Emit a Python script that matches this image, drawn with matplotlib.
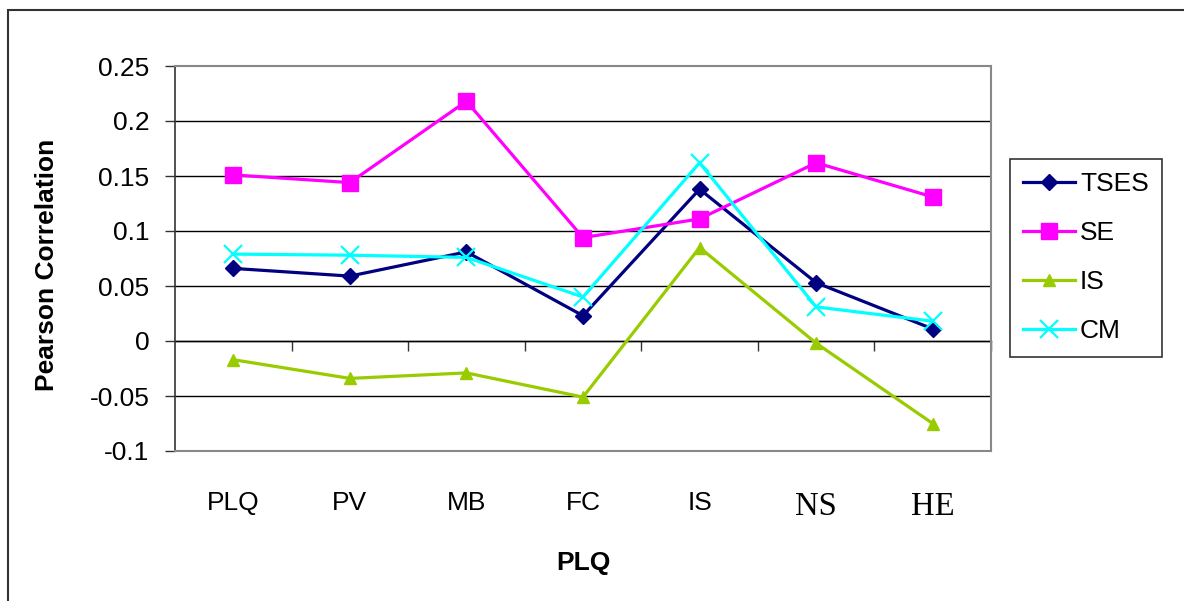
import matplotlib
matplotlib.use("Agg")
import matplotlib.pyplot as plt
from matplotlib.patches import Rectangle

categories = ["PLQ", "PV", "MB", "FC", "IS", "NS", "HE"]
tses = [0.066, 0.059, 0.081, 0.023, 0.138, 0.053, 0.011]
se = [0.151, 0.144, 0.218, 0.094, 0.111, 0.162, 0.131]
is_vals = [-0.017, -0.034, -0.029, -0.051, 0.085, -0.002, -0.075]
cm = [0.079, 0.078, 0.076, 0.040, 0.162, 0.031, 0.018]
y_ticks = [-0.1, -0.05, 0, 0.05, 0.1, 0.15, 0.2, 0.25]
y_tick_labels = ["-0.1", "-0.05", "0", "0.05", "0.1", "0.15", "0.2", "0.25"]

W, H = 1184, 601
FS = 19
plt.rcParams["font.family"] = ["Liberation Sans", "DejaVu Sans"]
fig = plt.figure(figsize=(W / 100, H / 100), dpi=100)
fig.patch.set_facecolor("white")

# outer chart frame
fig.patches.append(Rectangle((8 / W, 0 - 0.05), 1.2, 1 - 10 / H + 0.05,
                             transform=fig.transFigure, fill=False,
                             edgecolor="#333333", linewidth=1.5))

left, right, top, bottom = 175, 991, 66, 451
ax = fig.add_axes([left / W, 1 - bottom / H, (right - left) / W, (bottom - top) / H])

x = list(range(len(categories)))
series = [
    ("TSES", tses, "#000080", "D", 8.5, 1.0),
    ("SE", se, "#FF00FF", "s", 11.5, 1.0),
    ("IS", is_vals, "#99CC00", "^", 9, 1.0),
    ("CM", cm, "#00FFFF", "x", 13, 1.6),
]
for name, vals, col, mk, ms, mew in series:
    ax.plot(x, vals, color=col, linewidth=2.3, marker=mk, markersize=ms,
            markeredgewidth=mew, markerfacecolor=col, markeredgecolor=col,
            label=name, zorder=3, clip_on=False)

ax.set_xlim(-0.5, len(categories) - 0.5)
ax.set_ylim(-0.1, 0.25)
ax.set_yticks(y_ticks)
ax.set_yticklabels(y_tick_labels)
ax.tick_params(axis="y", direction="out", length=7.5, width=1, color="#333333",
               labelsize=FS, pad=11)

# horizontal grid
for v in y_ticks[1:-1]:
    ax.axhline(v, color="black", linewidth=1, zorder=1)

for side in ["top", "right", "bottom"]:
    ax.spines[side].set_color("#888888")
    ax.spines[side].set_linewidth(1.5)
ax.spines["left"].set_color("#333333")
ax.spines["left"].set_linewidth(1.2)

# category labels below the plot
ax.set_xticks(x)
ax.set_xticklabels(categories)
ax.tick_params(axis="x", length=0, labelsize=FS, pad=29)
for lbl in ax.get_xticklabels():
    if lbl.get_text() in ("NS", "HE"):
        lbl.set_fontfamily(["Liberation Serif", "DejaVu Serif"])
        lbl.set_fontsize(23.5)

# category axis crossing at zero with boundary tick marks
zero_axis = ax.secondary_xaxis(0, transform=ax.transData)
zero_axis.set_xticks([i + 0.5 for i in x[:-1]] + [len(categories) - 0.5])
zero_axis.set_xticklabels([])
zero_axis.tick_params(axis="x", direction="out", length=7.5, width=1, color="#333333")
zero_axis.spines["bottom"].set_color("black")
zero_axis.spines["bottom"].set_linewidth(1)

fig.text(583 / W, 1 - 563 / H, "PLQ", fontsize=FS, fontweight="bold",
         ha="center", va="center")
fig.text(47 / W, 1 - 265 / H, "Pearson Correlation", fontsize=FS,
         fontweight="bold", rotation=90, ha="center", va="center")

leg = fig.legend(loc="upper left", bbox_to_anchor=(1010 / W, 1 - 159 / H),
                 frameon=True, fancybox=False, fontsize=FS,
                 handlelength=1.95, handletextpad=0.2, labelspacing=0.95,
                 borderpad=0.5, borderaxespad=0)
leg.get_frame().set_edgecolor("black")
leg.get_frame().set_linewidth(1.2)

fig.savefig("out.png", dpi=100, facecolor="white")
